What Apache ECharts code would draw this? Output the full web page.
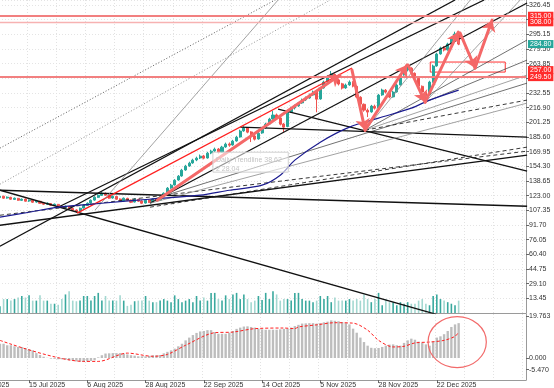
<!DOCTYPE html>
<html><head><meta charset="utf-8">
<script src="https://cdn.jsdelivr.net/npm/echarts@6/dist/echarts.min.js"></script>
<style>html,body{margin:0;padding:0;background:#fff}#c{width:554px;height:388px}</style>
</head><body><div id="c"></div><script>
// ---------- DATA ----------
const MONTHS = [
 ['Jun','2025',[20,23,24,25,26,27,30]],
 ['Jul','2025',[1,2,3,7,8,9,10,11,14,15,16,17,18,21,22,23,24,25,28,29,30,31]],
 ['Aug','2025',[1,4,5,6,7,8,11,12,13,14,15,18,19,20,21,22,25,26,27,28,29]],
 ['Sep','2025',[2,3,4,5,8,9,10,11,12,15,16,17,18,19,22,23,24,25,26,29,30]],
 ['Oct','2025',[1,2,3,6,7,8,9,10,13,14,15,16,17,20,21,22,23,24,27,28,29,30,31]],
 ['Nov','2025',[3,4,5,6,7,10,11,12,13,14,17,18,19,20,21,24,25,26,28]],
 ['Dec','2025',[1,2,3,4,5,8,9,10,11,12,15,16,17,18,19,22,23,24,26,29,30,31]],
 ['Jan','2026',[2,5,6,7,8,9,12,13,14,15,16,20,21,22,23,26,27,28]]
];
const categories = [];
MONTHS.forEach(([m,y,ds]) => ds.forEach(d => categories.push(d+' '+m+' '+y)));
const FIRST_IDX = -16;      // bar index of categories[0] (0 = 15 Jul 2025)
const DATA_START = -9;      // bar index of first OHLC row
const labelDates = ['20 Jun 2025','15 Jul 2025','6 Aug 2025','28 Aug 2025','22 Sep 2025','14 Oct 2025','5 Nov 2025','28 Nov 2025','22 Dec 2025'];
const priceTicks = {min:-2.2, max:331.8, step:15.65};

// [open, close, low, high]
const ohlc = [
[122.0,121.4,120.2,123.1],[121.0,122.4,120.5,123.3],[122.4,120.3,119.6,122.9],[120.5,121.4,119.8,122.2],
[121.2,119.2,118.6,121.8],[119.0,120.3,118.4,121.0],[120.1,118.1,117.5,120.6],[118.0,119.2,117.4,120.0],
[119.4,117.1,116.6,119.9],[117.3,118.1,116.4,119.0],[118.3,116.0,115.2,118.8],[116.2,117.1,115.5,117.9],
[117.0,114.9,114.3,117.4],[115.0,113.9,113.0,115.8],[113.8,114.9,113.1,115.9],[114.6,112.8,112.0,115.0],
[112.6,113.9,111.9,114.6],[113.7,111.7,111.0,114.2],[111.9,110.7,109.8,112.5],[110.5,111.7,109.9,112.4],
[111.5,109.6,108.8,112.0],[109.4,107.5,106.6,110.1],[107.7,106.4,104.8,108.4],[106.6,109.6,106.0,110.3],
[109.8,112.8,109.2,113.6],[112.6,114.9,112.0,115.8],[115.2,118.1,114.6,119.0],[118.3,121.4,117.6,122.4],
[121.2,123.5,120.6,124.6],[123.3,125.6,122.8,126.8],[125.4,123.5,122.7,126.4],[123.6,120.3,119.5,124.2],
[120.5,122.4,119.8,123.2],[122.2,119.2,118.5,122.8],[119.4,117.1,116.4,120.1],[117.3,120.3,116.8,121.0],
[120.1,118.1,117.2,120.8],[118.3,116.0,115.1,118.9],[116.2,119.2,115.8,120.0],[119.0,117.1,116.3,119.8],
[117.3,114.9,114.0,118.0],[115.1,118.1,114.6,118.9],[118.3,116.0,115.2,119.1],[116.2,119.2,115.6,120.0],
[119.4,118.1,117.3,120.2],[118.3,121.4,117.9,122.3],[121.6,125.6,121.0,126.5],[125.8,131.0,125.1,132.2],
[131.2,134.2,130.3,135.6],[134.4,139.5,133.8,140.6],[139.7,143.8,138.9,145.0],[144.0,150.2,143.2,151.6],
[150.4,154.5,149.6,155.9],[154.7,157.7,153.8,159.2],[157.9,160.9,157.0,162.4],[161.1,163.0,159.8,164.6],
[163.2,165.2,162.1,166.9],[165.4,163.0,161.8,166.5],[163.2,168.4,162.6,169.8],[168.6,170.5,167.3,172.0],
[170.7,172.6,169.6,174.3],[172.8,169.4,168.1,173.9],[169.6,174.8,169.0,176.2],[175.0,178.0,174.1,179.6],
[178.2,176.9,175.2,179.8],[177.1,181.2,176.4,182.6],[181.4,185.4,180.6,186.9],[185.6,191.9,185.0,193.4],
[192.1,195.1,191.2,197.0],[195.3,190.8,189.6,196.2],[191.0,186.5,180.2,191.8],[186.7,183.3,181.9,188.1],
[183.5,189.7,182.8,190.9],[189.9,195.1,189.0,196.4],[195.3,199.3,194.4,200.8],[199.5,204.7,198.6,206.1],
[204.9,209.0,204.0,213.5],[209.2,205.7,204.1,210.6],[205.9,199.3,198.0,206.8],[199.5,196.1,191.0,200.6],
[196.8,212.2,196.0,213.4],[212.4,216.4,211.4,217.9],[216.6,218.6,215.0,220.2],[218.8,221.8,217.8,223.0],
[222.0,225.0,221.0,226.6],[225.2,227.1,224.0,228.8],[227.3,230.3,226.4,231.9],[230.5,233.5,229.6,235.1],
[233.7,226.0,212.0,234.6],[226.2,237.8,225.4,239.1],[238.0,244.2,237.2,245.7],[244.4,249.5,243.5,251.2],
[249.7,252.7,248.6,256.0],[252.5,246.3,245.1,253.4],[246.5,242.1,240.6,247.4],[242.3,237.8,236.3,243.4],
[238.0,241.0,237.0,242.6],[241.2,244.2,240.2,246.0],[244.0,239.9,238.6,245.1],[239.7,228.2,227.0,240.5],
[228.0,220.7,219.3,229.1],[220.5,214.3,212.6,221.4],[214.1,212.2,206.9,216.0],[212.4,218.6,211.5,219.9],
[218.4,216.4,214.9,220.1],[216.6,230.3,216.0,231.6],[230.5,235.7,229.6,237.2],[235.5,233.5,232.0,236.8],
[233.3,228.2,227.0,234.2],[228.4,233.5,227.6,234.9],[233.7,241.0,233.0,242.4],[241.2,251.7,240.5,253.0],
[251.9,257.0,251.0,259.1],[257.2,259.2,255.6,263.5],[259.0,253.8,252.5,260.0],[253.6,248.5,247.0,254.5],
[248.3,239.9,238.4,249.2],[239.7,233.5,226.0,240.6],[233.3,230.3,224.6,234.4],[230.5,244.2,229.8,245.6],
[244.4,261.3,243.6,262.8],[261.5,274.1,260.6,275.5],[274.3,280.5,273.4,282.0],[280.7,278.4,276.9,282.6],
[278.6,284.8,277.8,286.2],[285.0,291.2,284.1,292.8],[291.4,295.5,290.5,298.0],[295.3,284.8,283.6,296.2]
];
const volume = [
30,22,45,45,40,45,50,55,50,57,40,40,57,40,40,30,30,27,45,60,70,40,38,40,55,55,40,55,65,40,
55,40,40,40,57,40,23,27,38,40,40,55,40,35,35,40,45,40,35,57,45,35,40,45,35,55,40,50,40,65,
65,45,40,57,45,60,65,45,60,45,35,40,55,42,65,45,70,60,40,45,45,40,65,65,45,40,40,35,40,55,
45,55,35,50,40,40,40,45,40,45,40,60,45,35,45,65,25,45,35,35,25,35,30,35,30,30,40,45,30,25,
55,60,45,40,35,30,25,40
];
const macdHist = [
7.1,6.7,6.7,6.0,6.0,5.5,5.2,5.2,4.7,4.2,3.6,2.3,1.4,0.6,0.1,-0.3,-0.4,-0.6,-0.6,-0.8,
-1.1,-1.3,-1.6,-1.7,-1.9,-1.6,-1.4,-1.1,0.3,1.3,2.1,2.2,2.3,2.3,2.3,2.1,1.7,1.3,1.1,0.8,
0.8,0.8,1.0,1.3,1.3,1.4,2.2,2.9,3.6,4.4,5.5,6.7,8.3,9.6,10.8,11.8,12.5,12.7,13.1,13.1,
12.2,11.4,11.4,11.4,11.9,12.7,13.7,14.3,14.8,14.9,14.6,14.3,13.8,13.5,13.3,13.3,13.3,13.3,13.5,13.7,
13.8,14.3,15.0,15.6,16.2,16.3,16.4,16.4,16.2,16.4,16.8,17.1,17.7,17.5,17.3,16.9,16.4,15.8,13.8,11.9,
9.6,7.5,5.8,4.8,4.6,4.7,5.2,5.8,6.3,6.4,6.0,5.8,7.1,8.3,9.1,8.6,7.7,7.1,6.4,5.8,
7.7,9.6,10.2,11.2,12.7,14.6,15.8,16.4
];
// signal line [bar index, value]
const signalPts = [[-8,8.3],[15,-1.6],[19,-1.6],[27,2.3],[34,0.8],[38,1.7],[43,6.0],[51,11.9],[56,12.2],
 [62,13.8],[70,14.1],[73,13.8],[74,14.6],[79,15.6],[84,16.6],[89,16.4],[93,13.1],[96,8.3],[100,5.2],
 [103,5.5],[106,7.1],[110,7.5],[114,8.3],[117,10.2],[118,12.2]];
const macdTicks = [19.763, 0, -5.47];
// moving average [bar index, price]
const maPts = [[-8,100.0],[0,105.3],[8,110.7],[20,114.9],[33,119.2],[47,123.5],[55,128.8],[64,134.2],
 [69,144.9],[73,160.9],[80,180.1],[88,196.1],[96,205.7],[105,216.4],[110,225.0],[118,235.7]];
// trend lines [idx1, price1, idx2, price2]
const trendAnchors = [
 [-8,69.0,117.0,331.8],[8.5,111.7,125.0,331.8],[33.2,114.9,136.8,328.6],[-8,128.8,115.7,-7.9],
 [-8,128.8,136.8,111.7],[58.0,196.1,136.8,185.4],[68.4,215.4,136.8,149.1],[-8,91.4,136.8,166.2],
 [-8,102.1,136.8,170.5],[13.2,104.3,88.7,259.2],[18.1,107.5,68.4,331.8],[-8,173.7,67.6,331.8],
 [-8,135.2,82.7,331.8],[33.2,118.1,136.8,243.1],[33.2,114.9,136.8,221.8],[33.2,110.7,136.8,174.8],
 [92.3,192.9,121.2,331.8],[92.3,192.9,136.8,289.1],[92.3,192.9,136.8,251.7],[92.3,192.9,136.8,225.0],
 [108.8,222.8,134.9,331.8],[108.8,222.8,136.8,267.7]
];
const trendKinds = ['thick','thick','thick','thick','thick','thick','thick','thick','dashed','red','grey',
 'dotted','dottedGrey','thin','grey','dashed','grey','thin','grey','dashed','grey','thin'];
// arrows [idx1, price1, idx2, price2]
const arrows = [[35.2,118.1,85.4,251.7],[88.7,257.0,92.3,192.9],[92.3,192.9,103.8,262.4],
 [104.1,262.4,108.8,222.8],[108.8,222.8,117.9,297.6],[118.4,296.5,122.5,259.2],[122.5,259.2,127.2,310.4]];
const zoneBox = [110.2,265.6,130.8,254.9];
const hLines = [315.0, 308.0, 249.5];
const priceTags = [[315.0,'red'],[308.0,'red'],[257.0,'red'],[249.5,'red'],[284.8,'teal']];
const noteBox = [50.5,169.4,71.2,148.1];
const noteText = 'Daily Trendline 38.62\n2 28.04';
const circleNote = [117.6,7.5,8.0,12.0];

// ---------- BUILD ----------
const N = categories.length;
function pad(arr){ const out = new Array(N).fill('-'); arr.forEach((v,i)=>{ out[DATA_START-FIRST_IDX+i]=v; }); return out; }
const UP='#26a69a', DOWN='#ef5350';
const volData = pad(volume.map((v,i)=>({value:v,itemStyle:{color: ohlc[i][1]>=ohlc[i][0] ? '#3aa99e' : '#a3d8d1'}})));
const FONT = 'Liberation Sans';
const lblStyle = {fontSize:7, color:'#333', fontFamily:FONT};
const kindStyle = {
 thick:{color:'#111',width:1.3,type:'solid'}, thin:{color:'#333',width:0.7,type:'solid'},
 grey:{color:'#8a8a8a',width:0.8,type:'solid'}, dashed:{color:'#222',width:0.9,type:[4,3]},
 dotted:{color:'#333',width:0.8,type:[1,2]}, dottedGrey:{color:'#777',width:0.8,type:[1,2]},
 red:{color:'#ff2020',width:1.3,type:'solid'}
};
const gLeft=-31, gRight=28;
const vMin = FIRST_IDX-0.5, vMax = FIRST_IDX+N-0.5;
const isLabel = (i,v)=>labelDates.includes(v);

const series = [];
series.push({type:'candlestick', xAxisIndex:0, yAxisIndex:0, data:pad(ohlc), barWidth:'70%', z:2, clip:false,
 itemStyle:{color:UP,color0:DOWN,borderColor:UP,borderColor0:DOWN,borderWidth:1},
 markLine:{silent:true, symbol:'none', animation:false, data:
  hLines.map((v,i)=>({yAxis:v, lineStyle:{color: i===1?'#f7b2b2':'#f28080', width: i===1?1.3:2, type:'solid'}, label:{show:false}}))
  .concat(priceTags.map(([v,c])=>({yAxis:v, lineStyle:{color:'rgba(0,0,0,0)', width:0}, label:{show:true, position:'end', distance:2,
    formatter:()=>v.toFixed(2), backgroundColor: c==='red'?'#ff2b2b':'#26a69a', color:'#fff', fontSize:7, fontFamily:FONT, padding:[1,2,0,2]}})))
 }});
trendAnchors.forEach((a,i)=>{
 series.push({type:'line', xAxisIndex:1, yAxisIndex:0, data:[[a[0],a[1]],[a[2],a[3]]], symbol:'none', clip:true, silent:true, z:3,
  lineStyle:kindStyle[trendKinds[i]]});
});
series.push({type:'line', xAxisIndex:1, yAxisIndex:0, data:maPts, symbol:'none', smooth:0.3, clip:true, silent:true, z:4,
 lineStyle:{color:'#1b1b8f', width:1.2},
 markLine:{silent:true, symbol:['none','arrow'], symbolSize:11, animation:false, label:{show:false},
  lineStyle:{color:'#f46868', width:3, type:'solid', cap:'round'},
  data: arrows.map(a=>[{coord:[a[0],a[1]]},{coord:[a[2],a[3]]}])},
 markArea:{silent:true, itemStyle:{color:'rgba(255,255,255,0)', borderColor:'#ff3030', borderWidth:1},
  data:[[{coord:[zoneBox[0],zoneBox[1]]},{coord:[zoneBox[2],zoneBox[3]]}]]}
});
series.push({type:'custom', xAxisIndex:1, yAxisIndex:0, data:[noteBox], silent:true, z:6,
 renderItem:(p,api)=>{ const a=api.coord([api.value(0),api.value(1)]), b=api.coord([api.value(2),api.value(3)]);
  return {type:'group', children:[
   {type:'rect', shape:{x:a[0],y:a[1],width:b[0]-a[0],height:b[1]-a[1]}, style:{fill:'rgba(255,255,255,0.55)', stroke:'#d0d0d0', lineWidth:1}},
   {type:'text', x:a[0]+3, y:a[1]+3, style:{text:noteText, fill:'#c4c4c4', font:'7px '+FONT, lineHeight:9}}]}; }});
series.push({type:'bar', xAxisIndex:2, yAxisIndex:1, data:volData, barWidth:1.6, silent:true, z:1});
series.push({type:'bar', xAxisIndex:3, yAxisIndex:2, data:pad(macdHist), barWidth:'65%', silent:true, itemStyle:{color:'#bdbdbd'}});
series.push({type:'line', xAxisIndex:4, yAxisIndex:2, data:signalPts, symbol:'none', smooth:0.3, silent:true, z:4,
 lineStyle:{color:'#ff1f1f', width:1, type:[3,2]}});
series.push({type:'custom', xAxisIndex:4, yAxisIndex:2, data:[circleNote], silent:true, z:6,
 renderItem:(p,api)=>{ const c=api.coord([api.value(0),api.value(1)]); const s=api.size([api.value(2),api.value(3)]);
  return {type:'ellipse', shape:{cx:c[0],cy:c[1],rx:s[0],ry:s[1]}, style:{fill:'none', stroke:'#f26a6a', lineWidth:1.2}}; }});

const grayLine = {show:true, onZero:false, lineStyle:{color:'#9a9a9a', width:1}};
const vSplit = {show:true, interval:(i)=> i%8===0, lineStyle:{color:'#e2e2e2', type:[1,2]}};
const option = {
 animation:false, backgroundColor:'#fff',
 grid:[
  {left:gLeft, right:gRight, top:0, height:313, outerBoundsMode:'none', containLabel:false},
  {left:gLeft, right:gRight, top:287, height:26, outerBoundsMode:'none', containLabel:false},
  {left:gLeft, right:gRight, top:314, height:66, outerBoundsMode:'none', containLabel:false}
 ],
 xAxis:[
  {type:'category', gridIndex:0, data:categories, axisLine:grayLine, axisTick:{show:false}, axisLabel:{show:false}, splitLine:vSplit},
  {type:'value', gridIndex:0, min:vMin, max:vMax, show:false, axisLine:{onZero:false}},
  {type:'category', gridIndex:1, data:categories, show:false, axisLine:{onZero:false}},
  {type:'category', gridIndex:2, data:categories, axisLine:grayLine,
   axisTick:{show:true, interval:isLabel, alignWithLabel:true, length:3, lineStyle:{color:'#666'}},
   axisLabel:Object.assign({interval:isLabel, align:'left', margin:2, hideOverlap:false}, lblStyle), splitLine:vSplit},
  {type:'value', gridIndex:2, min:vMin, max:vMax, show:false, axisLine:{onZero:false}}
 ],
 yAxis:[
  {type:'value', gridIndex:0, position:'right', min:priceTicks.min, max:priceTicks.max, interval:priceTicks.step,
   axisLine:grayLine, axisTick:{show:true, length:3, lineStyle:{color:'#666'}},
   axisLabel:Object.assign({showMinLabel:false, showMaxLabel:false, margin:3, formatter:v=>v.toFixed(2)}, lblStyle),
   splitLine:{show:true, lineStyle:{color:'#e4e4e4', type:[1,2]}}},
  {type:'value', gridIndex:1, min:0, max:84, show:false, axisLine:{onZero:false}},
  {type:'value', gridIndex:2, position:'right', min:-10.35, max:20.7,
   axisLine:grayLine, axisTick:{show:true, length:3, customValues:macdTicks, lineStyle:{color:'#666'}},
   axisLabel:Object.assign({customValues:macdTicks, margin:3, formatter:v=>v.toFixed(3)}, lblStyle),
   splitLine:{show:false}}
 ],
 series
};
const chart = echarts.init(document.getElementById('c'), null, {renderer:'canvas'});
chart.setOption(option);
</script></body></html>
